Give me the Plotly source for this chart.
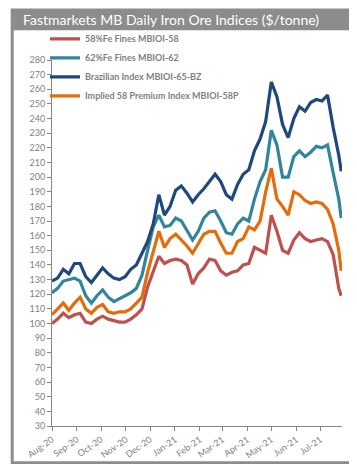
import plotly.graph_objects as go

dates = ["2020-08-01", "2020-08-08", "2020-08-15", "2020-08-22", "2020-08-29",
         "2020-09-05", "2020-09-12", "2020-09-19", "2020-09-26",
         "2020-10-03", "2020-10-10", "2020-10-17", "2020-10-24", "2020-10-31",
         "2020-11-07", "2020-11-14", "2020-11-21", "2020-11-28",
         "2020-12-05", "2020-12-12", "2020-12-19", "2020-12-26",
         "2021-01-02", "2021-01-09", "2021-01-16", "2021-01-23", "2021-01-30",
         "2021-02-06", "2021-02-13", "2021-02-20", "2021-02-27",
         "2021-03-06", "2021-03-13", "2021-03-20", "2021-03-27",
         "2021-04-03", "2021-04-10", "2021-04-17", "2021-04-24",
         "2021-05-01", "2021-05-08", "2021-05-15", "2021-05-22", "2021-05-29",
         "2021-06-05", "2021-06-12", "2021-06-19", "2021-06-26",
         "2021-07-03", "2021-07-10", "2021-07-17", "2021-07-24", "2021-07-27"]

fines58 = [100, 103, 107, 104, 106, 107, 101, 100, 103, 105, 103, 102, 101, 101,
           103, 106, 110, 125, 136, 146, 141, 143, 144, 143, 140, 127, 134,
           138, 144, 143, 136, 133, 135, 136, 140, 141, 152, 150, 148,
           174, 163, 150, 148, 157, 162, 158, 156, 157, 158, 156, 147, 124, 119]

fines62 = [121, 124, 129, 130, 131, 129, 119, 114, 119, 123, 118, 115, 117, 119,
           121, 124, 133, 150, 166, 174, 166, 167, 172, 170, 163, 157, 163,
           172, 176, 177, 170, 162, 161, 168, 172, 170, 185, 197, 205,
           232, 222, 200, 200, 214, 218, 214, 217, 221, 220, 222, 203, 185, 172]

brazil65 = [129, 131, 137, 134, 141, 141, 132, 128, 133, 138, 134, 131, 130, 132,
            137, 140, 148, 156, 168, 188, 174, 180, 191, 194, 189, 183, 188,
            192, 197, 202, 197, 188, 185, 195, 202, 205, 218, 226, 238,
            265, 255, 236, 227, 240, 248, 245, 251, 253, 252, 256, 234, 215, 204]

implied58p = [106, 110, 114, 109, 114, 118, 110, 107, 111, 113, 108, 107, 108, 108,
              110, 114, 118, 135, 150, 163, 152, 158, 161, 157, 153, 148, 155,
              161, 163, 163, 155, 148, 148, 156, 158, 166, 164, 170, 190,
              206, 185, 180, 174, 190, 188, 184, 182, 183, 182, 178, 168, 150, 136]

series_names = ["58%Fe Fines MBIOI-58", "62%Fe Fines MBIOI-62",
                "Brazilian Index MBIOI-65-BZ", "Implied 58 Premium Index MBIOI-58P"]
series_values = [fines58, fines62, brazil65, implied58p]
series_colors = ["#C0504D", "#31859C", "#1F497D", "#E46C0A"]

W, H = 357, 464
L, R, T, B = 44, 23, 52, 42
pw, ph = W - L - R, H - T - B


def px(x):
    return (x - L) / pw


def py(y):
    return (H - B - y) / ph


fig = go.Figure()
for name, vals, col in zip(series_names, series_values, series_colors):
    fig.add_trace(go.Scatter(x=dates, y=vals, mode="lines", name=name,
                             line=dict(color=col, width=3.2)))

grey = "#8C8C8C"
axis_grey = "#868686"
fig.update_layout(
    width=W, height=H,
    margin=dict(l=L, r=R, t=T, b=B),
    paper_bgcolor="white",
    plot_bgcolor="rgba(0,0,0,0)",
    font=dict(family="Lato", color="#7F7F7F", size=9),
    showlegend=True,
    legend=dict(x=px(37), y=py(16), xanchor="left", yanchor="top",
                bgcolor="rgba(0,0,0,0)", itemwidth=30,
                font=dict(family="Lato", size=9, color="#7F7F7F", weight="bold"),
                tracegroupgap=0),
    shapes=[
        dict(type="rect", xref="paper", yref="paper", layer="below",
             x0=px(2.7), x1=px(355), y0=py(0), y1=py(461),
             fillcolor=grey, line=dict(width=0)),
        dict(type="rect", xref="paper", yref="paper", layer="below",
             x0=px(5.7), x1=px(350.7), y0=py(22), y1=py(457.7),
             fillcolor="white", line=dict(width=0)),
    ],
    annotations=[
        dict(text="Fastmarkets MB Daily Iron Ore Indices ($/tonne)",
             xref="paper", yref="paper", x=px(13), y=py(11),
             xanchor="left", yanchor="middle", showarrow=False,
             font=dict(family="Lato", size=14, color="white")),
    ],
)

fig.update_xaxes(
    type="date", range=["2020-08-01", "2021-07-28"],
    dtick="M1", tick0="2020-08-01", tickformat="%b-%y", tickangle=-35,
    showgrid=False, zeroline=False,
    showline=True, linecolor=axis_grey, linewidth=1,
    ticks="outside", ticklen=4, tickcolor=axis_grey,
    tickfont=dict(family="Lato", size=9, color="#7F7F7F"),
)
fig.update_yaxes(
    range=[30, 280], dtick=10, tick0=30,
    showgrid=False, zeroline=False,
    showline=True, linecolor=axis_grey, linewidth=1,
    ticks="outside", ticklen=4, tickcolor=axis_grey,
    tickfont=dict(family="Lato", size=9, color="#7F7F7F"),
)

fig.write_html("out.html")
